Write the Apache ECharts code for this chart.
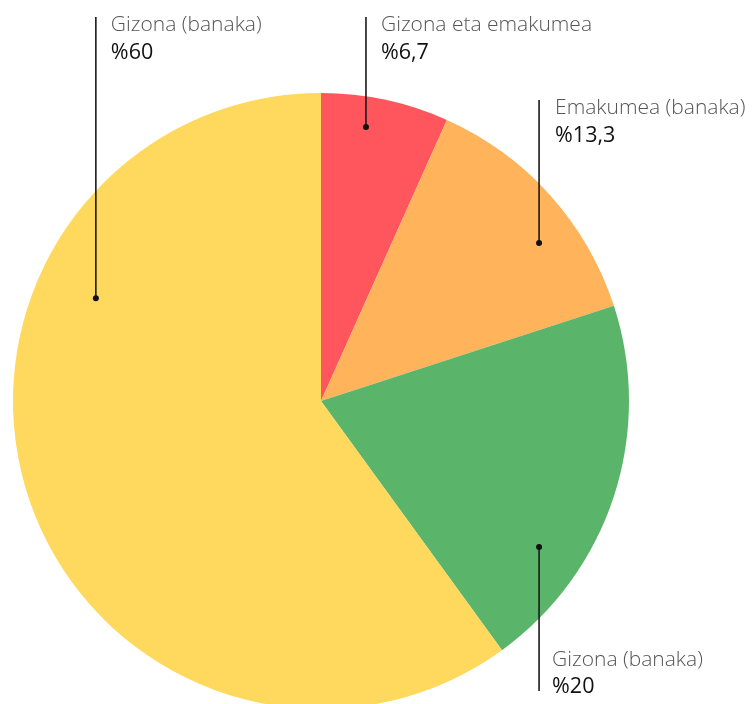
<!DOCTYPE html>
<html><head><meta charset="utf-8">
<script src="https://cdn.jsdelivr.net/npm/echarts@6/dist/echarts.min.js"></script>
<style>html,body{margin:0;padding:0;background:#fff}#c{width:756px;height:704px}</style>
</head><body><div id="c"></div>
<script>
// ---- data ----
const categories = ['Gizona eta emakumea', 'Emakumea (banaka)', 'Gizona (banaka)', 'Gizona (banaka)'];
const values = [6.7, 13.3, 20, 60];
const colors = ['#FF555C', '#FFB35B', '#5AB56B', '#FED95D'];

// ---- layout (positions/styles only) ----
const CX = 321, CY = 401, R = 308;
const anchors = [
  { fx: 0.146, fy: -0.890, endY: 17, dir: 'up', gap: 15 },
  { fx: 0.708, fy: -0.513, endY: 100, dir: 'up', gap: 16 },
  { fx: 0.708, fy: 0.474, endY: 691, dir: 'down', gap: 13 },
  { fx: -0.731, fy: -0.334, endY: 17, dir: 'up', gap: 15 }
];
function dotPos(i) {
  const a = anchors[i];
  return [CX + a.fx * R, CY + a.fy * R];
}

const chart = echarts.init(document.getElementById('c'), null, { renderer: 'canvas' });
const FONT = "'Open Sans', Lato, sans-serif";

const graphics = [];
anchors.forEach((a, i) => {
  const d = dotPos(i);
  graphics.push({
    type: 'line', z: 100,
    shape: { x1: d[0], y1: d[1], x2: d[0], y2: a.endY },
    style: { stroke: '#1a1a1a', lineWidth: 1.6 }
  });
  graphics.push({
    type: 'circle', z: 101,
    shape: { cx: d[0], cy: d[1], r: 3 },
    style: { fill: '#111' }
  });
});

chart.setOption({
  animation: false,
  series: [{
    type: 'pie',
    center: [CX, CY],
    radius: [0, R],
    startAngle: 90,
    clockwise: true,
    avoidLabelOverlap: false,
    silent: true,
    data: categories.map((c, i) => ({ name: c, value: values[i], itemStyle: { color: colors[i], borderWidth: 0 } })),
    label: {
      show: true,
      position: 'outside',
      formatter: p => '{n|' + p.name + '}\n{v|%' + String(p.value).replace('.', ',') + '}',
      rich: {
        n: { fontFamily: FONT, fontSize: 21, fontWeight: 300, color: '#555', lineHeight: 27 },
        v: { fontFamily: FONT, fontSize: 21.5, fontWeight: 400, color: '#111', lineHeight: 27 }
      }
    },
    labelLine: { show: false },
    labelLayout: function (p) {
      const a = anchors[p.dataIndex];
      const d = dotPos(p.dataIndex);
      const h = p.labelRect.height;
      const top = a.dir === 'up' ? a.endY - 5 : a.endY - h + 4;
      return { x: d[0] + a.gap, y: top, align: 'left', verticalAlign: 'top' };
    }
  }],
  graphic: graphics
});
</script>
</body></html>
